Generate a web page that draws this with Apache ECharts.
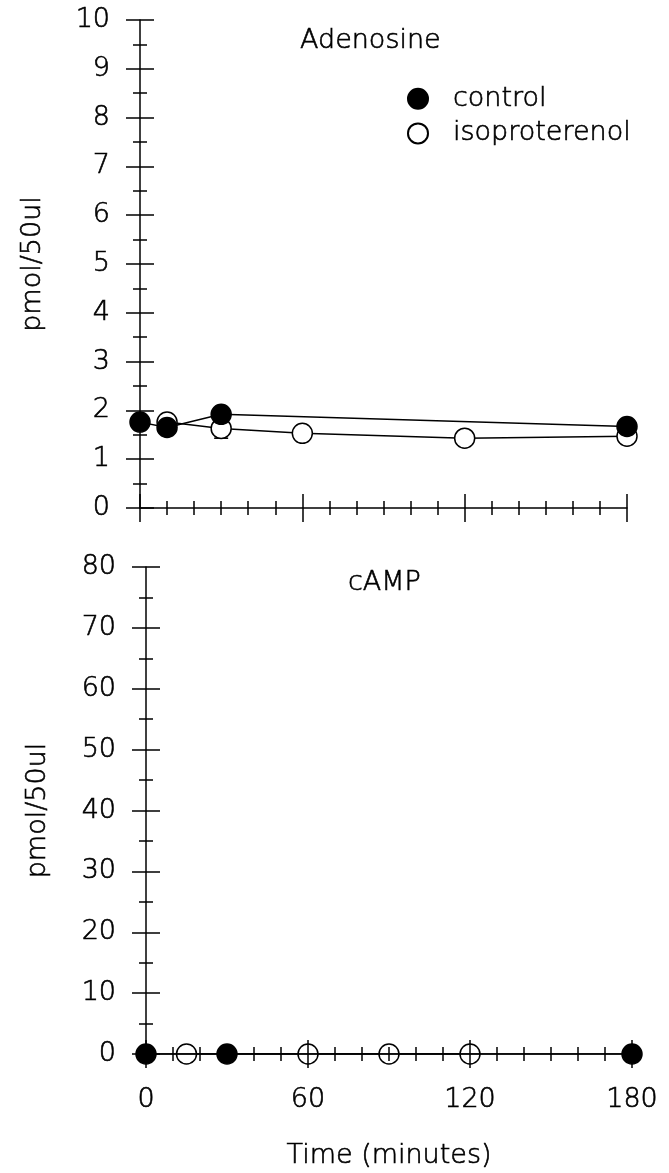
<!DOCTYPE html>
<html>
<head>
<meta charset="utf-8">
<script src="https://cdn.jsdelivr.net/npm/echarts@6/dist/echarts.min.js"></script>
<style>html,body{margin:0;padding:0;background:#fff}#c{width:669px;height:1173px}</style>
</head>
<body>
<div id="c"></div>
<script>
// ---- data ----
const seriesNames = ['control', 'isoproterenol'];
const panelTitles = ['Adenosine', 'cAMP'];
const yAxisName = 'pmol/50ul';
const xAxisName = 'Time (minutes)';

// Adenosine panel
const adoCtrlTime = [0, 10, 30, 180];
const adoCtrlVal  = [1.76, 1.65, 1.92, 1.67];
const adoIsoTime  = [10, 30, 60, 120, 180];
const adoIsoVal   = [1.76, 1.63, 1.53, 1.43, 1.47];
// error bar (time, low, high) for isoproterenol
const adoIsoErrTime = [30];
const adoIsoErrLow  = [1.43];
const adoIsoErrHigh = [1.83];

// cAMP panel
const campCtrlTime = [0, 30, 180];
const campCtrlVal  = [0, 0, 0];
const campIsoTime  = [15, 60, 90, 120];
const campIsoVal   = [0, 0, 0, 0];

// axis ranges / ticks
const xMin = 0, xMax = 180, xStep = 60;
const adoYMin = 0, adoYMax = 10, adoYStep = 1;
const campYMin = 0, campYMax = 80, campYStep = 10;

// ---- build ----
const FONT = 'DejaVu Sans';
const BLACK = '#000';
const FS = 27;
const txt = { color: BLACK, fontSize: FS, fontFamily: FONT, fontWeight: 200, textBorderColor: BLACK, textBorderWidth: 0.6 };
const zip = (a, b) => a.map((v, i) => [v, b[i]]);

function xAx(grid, inside, labels, extra) {
  return Object.assign({
    type: 'value', gridIndex: grid, position: 'bottom',
    min: xMin, max: xMax, interval: xStep,
    axisLine: { show: !inside, onZero: false, lineStyle: { color: BLACK, width: 1.5 } },
    axisTick: { show: true, inside: inside, length: 14, lineStyle: { color: BLACK, width: 1.5 } },
    minorTick: { show: true, splitNumber: 6, length: 7, lineStyle: { color: BLACK, width: 1.5 } },
    axisLabel: Object.assign({ show: labels, margin: 32 }, txt),
    splitLine: { show: false }, minorSplitLine: { show: false }
  }, extra || {});
}
function yAx(grid, inside, min, max, step, extra) {
  return Object.assign({
    type: 'value', gridIndex: grid, position: 'left',
    min: min, max: max, interval: step,
    axisLine: { show: !inside, onZero: false, lineStyle: { color: BLACK, width: 1.5 } },
    axisTick: { show: true, inside: inside, length: 14, lineStyle: { color: BLACK, width: 1.5 } },
    minorTick: { show: true, splitNumber: 2, length: 7, lineStyle: { color: BLACK, width: 1.5 } },
    axisLabel: Object.assign({ show: !inside, margin: 30 }, txt),
    splitLine: { show: false }, minorSplitLine: { show: false }
  }, extra || {});
}

const ctrlStyle = { color: BLACK, borderColor: BLACK, borderWidth: 1.5 };
const isoStyle = { color: '#fff', borderColor: BLACK, borderWidth: 1.5 };

function lineSeries(name, xi, data, style, z) {
  return {
    name: name, type: 'line', xAxisIndex: xi, yAxisIndex: xi,
    data: data, symbol: 'circle', symbolSize: 20, showSymbol: true,
    itemStyle: style, lineStyle: { color: BLACK, width: 1.5 }, z: z,
    emphasis: { disabled: true }
  };
}

const errData = adoIsoErrTime.map((t, i) => [t, adoIsoErrLow[i], adoIsoErrHigh[i]]);

const option = {
  animation: false,
  backgroundColor: '#fff',
  title: [
    { text: panelTitles[0], left: 300, top: 27, padding: 0, textStyle: txt },
    { text: panelTitles[1], left: 348, top: 569, padding: 0, textStyle: txt }
  ],
  legend: {
    data: seriesNames, orient: 'vertical', left: 407, top: 85, padding: 0,
    icon: 'circle', itemWidth: 20, itemHeight: 20, itemGap: 7,
    textStyle: Object.assign({ padding: [0, 0, 0, 20] }, txt),
    selectedMode: false
  },
  grid: [
    { left: 140, top: 20, width: 487, height: 488, containLabel: false, outerBoundsMode: 'none' },
    { left: 146, top: 567, width: 486, height: 487, containLabel: false, outerBoundsMode: 'none' }
  ],
  xAxis: [
    xAx(0, false, false),
    xAx(0, true, false),
    xAx(1, false, true, { z: 5, name: xAxisName, nameLocation: 'middle', nameGap: 88, nameTextStyle: txt }),
    xAx(1, true, false, { z: 5 })
  ],
  yAxis: [
    yAx(0, false, adoYMin, adoYMax, adoYStep, { name: yAxisName, nameLocation: 'middle', nameRotate: 90, nameGap: 94, nameTextStyle: txt }),
    yAx(0, true, adoYMin, adoYMax, adoYStep),
    yAx(1, false, campYMin, campYMax, campYStep, { name: yAxisName, nameLocation: 'middle', nameRotate: 90, nameGap: 95, nameTextStyle: txt }),
    yAx(1, true, campYMin, campYMax, campYStep)
  ],
  series: [
    {
      type: 'custom', xAxisIndex: 0, yAxisIndex: 0, z: 1, data: errData,
      renderItem: function (params, api) {
        const x = api.value(0);
        const lo = api.coord([x, api.value(1)]);
        const hi = api.coord([x, api.value(2)]);
        const w = 7;
        const st = { stroke: BLACK, lineWidth: 1.5 };
        return { type: 'group', children: [
          { type: 'line', shape: { x1: lo[0], y1: lo[1], x2: hi[0], y2: hi[1] }, style: st },
          { type: 'line', shape: { x1: lo[0] - w, y1: lo[1], x2: lo[0] + w, y2: lo[1] }, style: st },
          { type: 'line', shape: { x1: hi[0] - w, y1: hi[1], x2: hi[0] + w, y2: hi[1] }, style: st }
        ] };
      }
    },
    lineSeries(seriesNames[1], 0, zip(adoIsoTime, adoIsoVal), isoStyle, 2),
    lineSeries(seriesNames[0], 0, zip(adoCtrlTime, adoCtrlVal), ctrlStyle, 3),
    lineSeries(seriesNames[1], 2, zip(campIsoTime, campIsoVal), isoStyle, 2),
    lineSeries(seriesNames[0], 2, zip(campCtrlTime, campCtrlVal), ctrlStyle, 3)
  ]
};

const chart = echarts.init(document.getElementById('c'), null, { renderer: 'canvas' });
chart.setOption(option);
</script>
</body>
</html>
